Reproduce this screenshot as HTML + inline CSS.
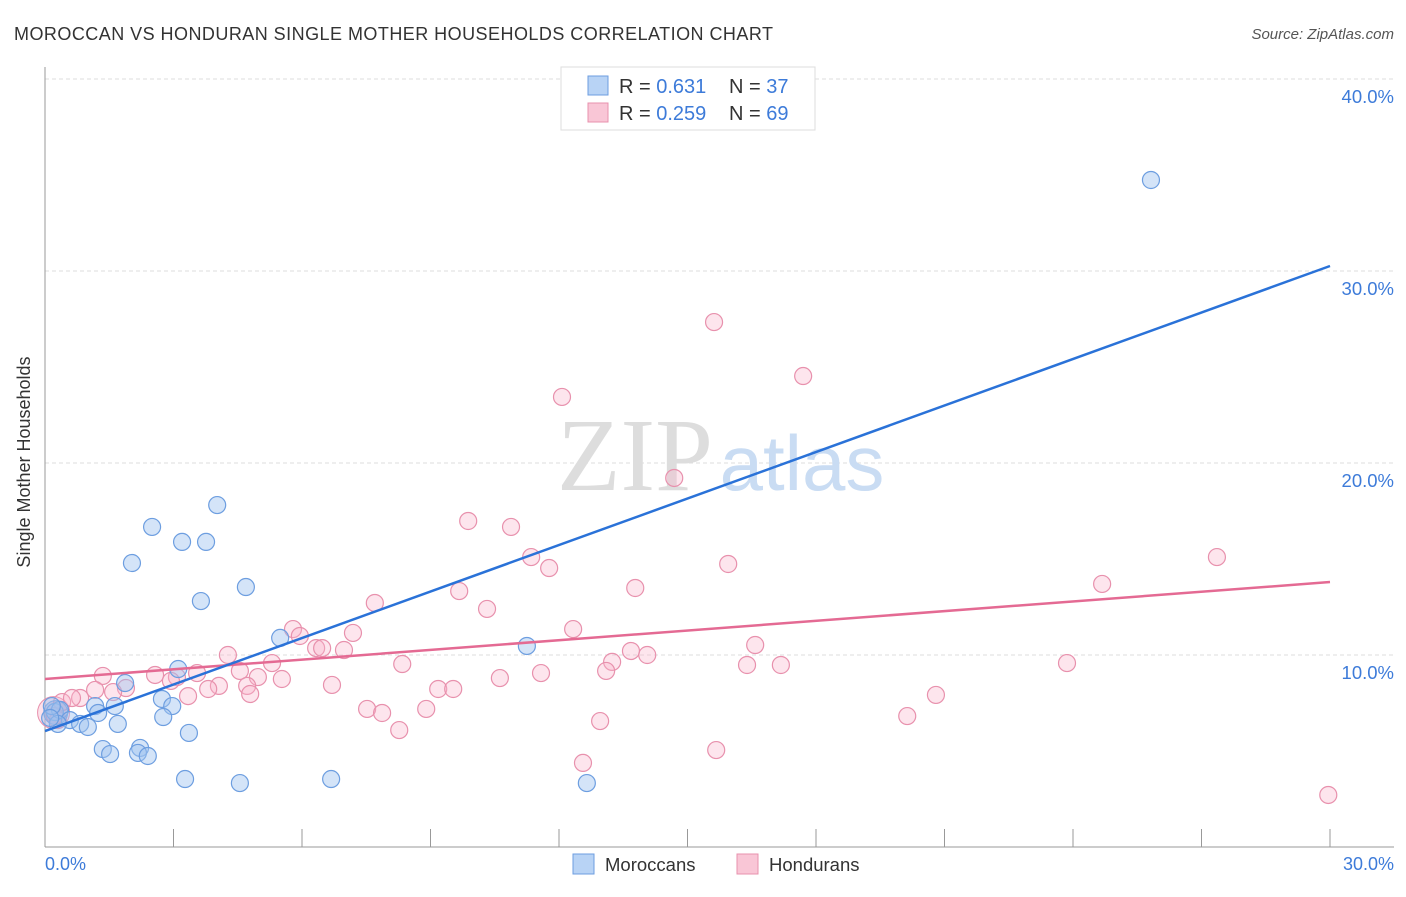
<!DOCTYPE html>
<html><head><meta charset="utf-8"><style>
body{margin:0;background:#fff;font-family:"Liberation Sans",sans-serif}
svg text{font-family:"Liberation Sans",sans-serif}
</style></head><body>
<svg id="chart" width="1406" height="892">
<text x="14" y="40" font-size="18" fill="#333" textLength="759">MOROCCAN VS HONDURAN SINGLE MOTHER HOUSEHOLDS CORRELATION CHART</text>
<text x="1394" y="39" font-size="15" fill="#555" font-style="italic" text-anchor="end">Source: ZipAtlas.com</text>
<g id="grid"></g>
<text x="635" y="490" font-size="104" fill="#ddd" text-anchor="middle" style="font-family:'Liberation Serif',serif">ZIP</text>
<text x="802" y="490" font-size="78" fill="#c9dcf3" text-anchor="middle">atlas</text>
<line x1="45" y1="67" x2="45" y2="847" stroke="#999"/>
<line x1="45" y1="847" x2="1394" y2="847" stroke="#999"/>
<g id="ticks"></g>
<g id="pink"></g>
<g id="blue"></g>
<g id="lines"></g>
<text x="24" y="456" font-size="18" fill="#333" text-anchor="middle" transform="rotate(-90 30 456)">Single Mother Households</text>
<text x="45" y="870" font-size="18" fill="#3d7bd9">0.0%</text>
<text x="1394" y="870" font-size="18" fill="#3d7bd9" text-anchor="end">30.0%</text>
<g>
<rect x="561" y="67" width="254" height="63" fill="#fff" stroke="#ddd"/>
<rect x="588" y="76" width="20" height="19" fill="#b8d3f5" stroke="#6d9ee0"/>
<rect x="588" y="103" width="20" height="19" fill="#f9c6d6" stroke="#e891ad"/>
<text x="619" y="93" font-size="20" fill="#333">R = <tspan fill="#3d7bd9">0.631</tspan></text>
<text x="729" y="93" font-size="20" fill="#333">N = <tspan fill="#3d7bd9">37</tspan></text>
<text x="619" y="120" font-size="20" fill="#333">R = <tspan fill="#3d7bd9">0.259</tspan></text>
<text x="729" y="120" font-size="20" fill="#333">N = <tspan fill="#3d7bd9">69</tspan></text>
</g>
<g>
<rect x="573" y="854" width="21" height="20" fill="#b8d3f5" stroke="#6d9ee0"/>
<text x="605" y="871" font-size="18.5" fill="#333">Moroccans</text>
<rect x="737" y="854" width="21" height="20" fill="#f9c6d6" stroke="#e891ad"/>
<text x="769" y="871" font-size="18.5" fill="#333">Hondurans</text>
</g>
</svg>
<script>
const yTicks=[10,20,30,40];
const yTickLabels=["10.0%","20.0%","30.0%","40.0%"];
const xTicks=[0,3,6,9,12,15,18,21,24,27,30];
const blueX=[25.82,4.02,2.50,3.20,3.76,2.03,4.69,3.64,5.49,11.25,3.11,1.87,2.73,2.97,1.17,1.63,1.24,2.76,0.23,0.35,0.58,0.82,1.00,1.70,0.30,3.36,1.35,1.52,2.22,2.17,2.40,3.27,4.55,6.68,12.65,0.16,0.12];
const blueY=[34.74,17.81,16.67,15.89,15.89,14.79,13.54,12.81,10.89,10.47,9.27,8.54,7.71,7.34,7.34,7.34,6.98,6.77,7.03,7.14,6.61,6.41,6.25,6.41,6.41,5.94,5.10,4.84,5.16,4.90,4.74,3.54,3.33,3.54,3.33,7.34,6.72];
const pinkX=[15.62,17.70,12.07,14.69,9.88,10.88,11.35,11.77,27.36,15.95,24.68,13.78,9.67,10.32,7.70,12.33,5.79,7.19,5.95,16.58,6.33,6.47,6.98,13.68,14.06,13.24,4.27,5.30,8.34,23.86,16.39,17.18,13.10,4.55,11.58,2.57,1.35,3.08,4.97,5.53,10.62,2.94,3.55,6.70,4.06,4.72,1.89,3.81,1.17,1.59,9.18,9.53,3.34,4.79,20.80,0.82,0.40,0.63,7.52,8.90,7.87,20.13,12.96,8.27,15.67,12.56,29.96,0.23,0.30];
const pinkY=[27.34,24.53,23.44,19.22,16.98,16.67,15.10,14.53,15.10,14.74,13.70,13.49,13.33,12.40,12.71,11.35,11.35,11.15,10.99,10.52,10.36,10.36,10.26,10.21,10.00,9.64,10.00,9.58,9.53,9.58,9.48,9.48,9.17,9.17,9.06,8.96,8.91,8.85,8.85,8.75,8.80,8.65,9.06,8.44,8.39,8.39,8.28,8.23,8.18,8.07,8.23,8.23,7.86,7.97,7.92,7.76,7.55,7.76,7.19,7.19,6.98,6.82,6.56,6.09,5.05,4.38,2.71,6.82,6.61];
const blueTrend=[6.04,30.26];
const pinkTrend=[8.75,13.80];
const NS="http://www.w3.org/2000/svg";
const sx=v=>45+v*(1285/30);
const sy=v=>847-v*19.2;
function mk(tag,attrs,parent){const e=document.createElementNS(NS,tag);for(const k in attrs)e.setAttribute(k,attrs[k]);parent.appendChild(e);return e;}
const grid=document.getElementById('grid');
yTicks.forEach((t,i)=>{
 const l=mk('line',{x1:45,x2:1394,y1:sy(t),y2:sy(t),stroke:'#ddd','stroke-dasharray':'4,3'},grid);
 
 
 const tx=mk('text',{x:1394,y:sy(t)+24,'font-size':18.5,fill:'#3d7bd9','text-anchor':'end'},grid);
 tx.textContent=yTickLabels[i];
 
 
});
const ticks=document.getElementById('ticks');
xTicks.forEach(t=>{
 const l=mk('line',{x1:sx(t),x2:sx(t),y1:829,y2:847,stroke:'#999'},ticks);
 
 
});
function pts(xs,ys,g,fill,stroke,name){
 xs.forEach((x,i)=>{
  const c=mk('circle',{cx:sx(x),cy:sy(ys[i]),r:8.5,fill:fill,stroke:stroke,'stroke-width':1.2},g);
  
  
 });
}
const pg=document.getElementById('pink'),bg=document.getElementById('blue');
const bp=mk('circle',{cx:sx(0.2),cy:sy(7.0),r:16,fill:'rgba(245,170,195,0.35)',stroke:'#e891ad'},pg);


pts(pinkX,pinkY,pg,'rgba(248,180,202,0.35)','#e891ad','honduran-point');
const bb=mk('circle',{cx:sx(0.25),cy:sy(7.0),r:12,fill:'rgba(140,150,210,0.45)',stroke:'#6d9ee0'},bg);


pts(blueX,blueY,bg,'rgba(160,196,240,0.45)','#6d9ee0','moroccan-point');
const lg=document.getElementById('lines');
const l1=mk('line',{x1:sx(0),y1:sy(pinkTrend[0]),x2:sx(30),y2:sy(pinkTrend[1]),stroke:'#e46a93','stroke-width':2.5},lg);


const l2=mk('line',{x1:sx(0),y1:sy(blueTrend[0]),x2:sx(30),y2:sy(blueTrend[1]),stroke:'#2a72d8','stroke-width':2.5},lg);


</script>
</body></html>
